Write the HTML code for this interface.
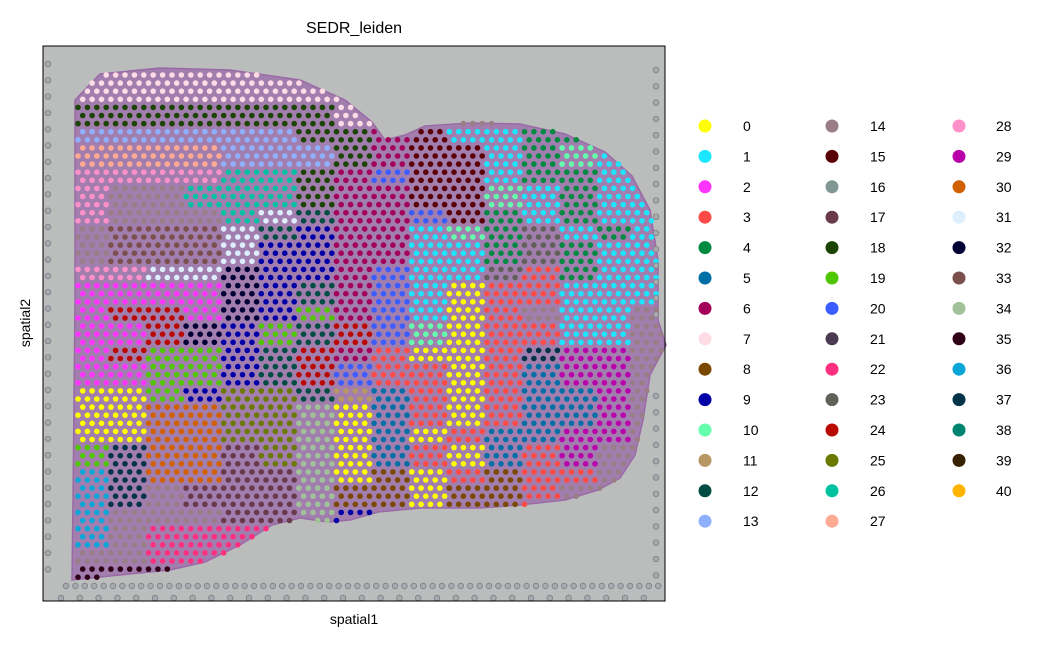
<!DOCTYPE html>
<html><head><meta charset="utf-8"><style>
body{margin:0;background:#fff;}
svg text{font-family:"Liberation Sans","DejaVu Sans",sans-serif;}
</style></head><body>
<svg id="chart" width="1045" height="644" xmlns="http://www.w3.org/2000/svg">
<text x="354" y="33" font-size="16" text-anchor="middle">SEDR_leiden</text>
<rect x="43" y="46" width="622" height="555" fill="#babdbc"/>
<polygon id="tissuePoly" fill="#a27eae" stroke="#9a6aa6" stroke-width="1.5"/>
<g id="spots"></g>
<rect x="43" y="46" width="622" height="555" fill="none" stroke="#000" stroke-width="1"/>
<text x="354" y="624" font-size="14" text-anchor="middle">spatial1</text>
<text x="30" y="323" font-size="14" text-anchor="middle" transform="rotate(-90 30 323)">spatial2</text>
<g id="legend"></g>
</svg>
<script>
const categories = ["0","1","2","3","4","5","6","7","8","9","10","11","12","13","14","15","16","17","18","19","20","21","22","23","24","25","26","27","28","29","30","31","32","33","34","35","36","37","38","39","40"];
const palette = ["#FFFF00","#1CE6FF","#FF34FF","#FF4A46","#008941","#006FA6","#A30059","#FFDBE5","#7A4900","#0000A6","#63FFAC","#B79762","#004D43","#8FB0FF","#997D87","#5A0007","#809693","#6A3A4C","#1B4400","#4FC601","#3B5DFF","#4A3B53","#FF2F80","#61615A","#BA0900","#6B7900","#00C2A0","#FFAA92","#FF90C9","#B903AA","#D16100","#DDEFFF","#000035","#7B4F4B","#A1C299","#300018","#0AA6D8","#013349","#00846F","#372101","#FFB500"];
// cluster map: 0-9, a=10..z=35, A=36..E=40, '.' = no label
const clusterMap = [
"77777777........",
"77777777........",
"iiiiiii77.......",
"ddddddii6f11444.",
"rrrrdddi6ff14a1.",
"ssssqqi6kff14411",
"seeqqqi66ffa1411",
"seeeqvc66kf41411",
"exxxvc9661a4n141",
"exxxv9966114n411",
"ssvvw996k11n3411",
"2222w9c6k1033111",
"2oo2w9j6k103e11e",
"22ow9jcoka03311.",
"2ojj9co63003Btt.",
"22jj9cok33035tt.",
"00j9ppcb530355t.",
"00uuppy0530355t.",
"00uuppy050355tt.",
"jBuuhpy053053t..",
"ABuuhhy0803833..",
"ABehhhy880883...",
"Aeeehhy9........",
"Aemmmm..........",
"eemmm...........",
"zzzm............"
];
const x0=70, cellW=37.5, y0=65, cellH=20;
const tissue=[[75,100],[100,74],[160,68],[230,70],[300,80],[345,100],[372,122],[385,140],[405,135],[425,126],[470,123],[520,124],[565,134],[605,152],[632,176],[650,210],[658,260],[658,320],[666,345],[650,375],[643,420],[635,455],[620,478],[598,490],[565,500],[520,505],[480,508],[420,508],[378,512],[350,520],[328,522],[300,518],[272,525],[240,545],[205,562],[170,570],[110,576],[72,580],[73,500],[75,300]];
function code(ch){
  if(ch>="0"&&ch<="9") return +ch;
  if(ch>="a"&&ch<="z") return ch.charCodeAt(0)-87;
  if(ch>="A"&&ch<="E") return ch.charCodeAt(0)-29;
  return 14;
}
function labelAt(x,y){
  let r=Math.floor((y-y0)/cellH), c=Math.floor((x-x0)/cellW);
  r=Math.max(0,Math.min(clusterMap.length-1,r));
  const row=clusterMap[r]; c=Math.max(0,Math.min(row.length-1,c));
  return code(row[c]);
}
function inside(x,y){
  let ins=false;
  for(let i=0,j=tissue.length-1;i<tissue.length;j=i++){
    const xi=tissue[i][0],yi=tissue[i][1],xj=tissue[j][0],yj=tissue[j][1];
    if(((yi>y)!==(yj>y)) && (x < (xj-xi)*(y-yi)/(yj-yi)+xi)) ins=!ins;
  }
  return ins;
}
const NS="http://www.w3.org/2000/svg";
document.getElementById("tissuePoly").setAttribute("points",tissue.map(p=>p.join(",")).join(" "));
const spots=document.getElementById("spots");
let ri=0;
for(let y=75;y<=578;y+=8.1,ri++){
  const off=(ri%2)*4.7;
  for(let x=78+off;x<=664;x+=9.4){
    if(!inside(x,y)) continue;
    const l=labelAt(x,y);
    const s=document.createElementNS(NS,"circle");
    s.setAttribute("cx",x.toFixed(1));s.setAttribute("cy",y.toFixed(1));s.setAttribute("r",2.8);
    s.setAttribute("fill",palette[l]);
    
    
    spots.appendChild(s);
  }
}
function emptySpot(x,y){
  const g=document.createElementNS(NS,"circle");
  g.setAttribute("cx",x);g.setAttribute("cy",y);g.setAttribute("r",2.8);
  g.setAttribute("fill","#a9aaae");g.setAttribute("stroke","#7d7d86");g.setAttribute("stroke-width","0.8");
  
  
  spots.appendChild(g);
}
for(let x=66;x<=660;x+=9.4){ emptySpot(x.toFixed(1),586); }
for(let x=61;x<=660;x+=18.8){ emptySpot(x.toFixed(1),598); }
for(let y=64;y<=580;y+=16.3){ emptySpot(48,y.toFixed(1)); }
for(let y=70;y<=580;y+=16.3){ if(y<330||y>380) emptySpot(656,y.toFixed(1)); }
// legend
const legend=document.getElementById("legend");
const colMarkerX=[705,832,959], colTextX=[743,870,996];
categories.forEach((c,i)=>{
  const col=Math.floor(i/14), row=i%14, y=126+row*30.4;
  const m=document.createElementNS(NS,"circle");
  m.setAttribute("cx",colMarkerX[col]);m.setAttribute("cy",y);m.setAttribute("r",6.5);m.setAttribute("fill",palette[i]);
  
  
  legend.appendChild(m);
  const t=document.createElementNS(NS,"text");
  t.setAttribute("x",colTextX[col]);t.setAttribute("y",y+5);t.setAttribute("font-size","14");
  t.textContent=c;
  
  
  legend.appendChild(t);
});
</script>
</body></html>
